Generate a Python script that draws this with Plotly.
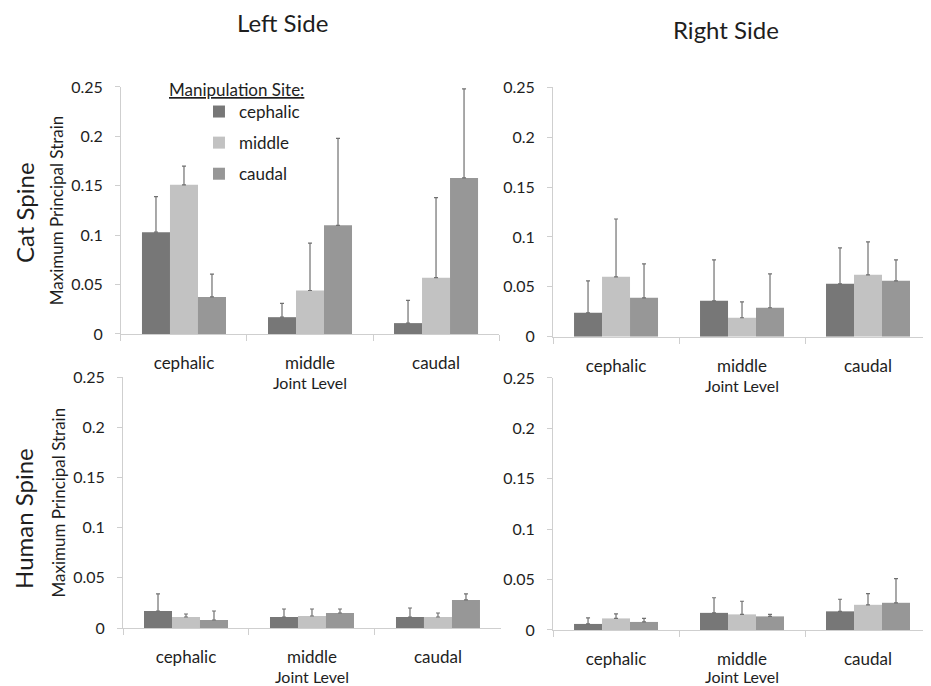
import plotly.graph_objects as go

# ---------------- data ----------------
joint_levels = ["cephalic", "middle", "caudal"]          # x categories
sites = ["cephalic", "middle", "caudal"]                 # manipulation sites (series)
site_colors = ["#777777", "#c2c2c2", "#979797"]

# Cat spine, left side (rows = manipulation site, cols = joint level)
cat_left_mean = [[0.103, 0.017, 0.011],
                 [0.151, 0.044, 0.057],
                 [0.0375, 0.110, 0.158]]
cat_left_err = [[0.036, 0.014, 0.023],
                [0.019, 0.048, 0.081],
                [0.023, 0.088, 0.090]]

# Cat spine, right side
cat_right_mean = [[0.024, 0.036, 0.053],
                  [0.060, 0.019, 0.062],
                  [0.039, 0.029, 0.056]]
cat_right_err = [[0.032, 0.041, 0.036],
                 [0.058, 0.016, 0.033],
                 [0.034, 0.034, 0.021]]

# Human spine, left side
human_left_mean = [[0.017, 0.011, 0.011],
                   [0.011, 0.012, 0.011],
                   [0.008, 0.015, 0.028]]
human_left_err = [[0.017, 0.008, 0.009],
                  [0.003, 0.007, 0.004],
                  [0.009, 0.004, 0.006]]

# Human spine, right side
human_right_mean = [[0.006, 0.017, 0.0185],
                    [0.0115, 0.0155, 0.025],
                    [0.008, 0.0135, 0.027]]
human_right_err = [[0.006, 0.015, 0.012],
                   [0.0045, 0.013, 0.011],
                   [0.0035, 0.002, 0.024]]

y_ticks = [0, 0.05, 0.1, 0.15, 0.2, 0.25]
y_ticktext = ["0", "0.05", "0.1", "0.15", "0.2", "0.25"]

# ---------------- figure ----------------
FONT = "Lato, 'Open Sans', sans-serif"
AXIS_COLOR = "#cfcfcf"
TEXT_COLOR = "#1e1e1e"

# the page body adds an 8 px offset, so the figure is 8 px smaller each way
W, H = 923, 678

panels = [
    ("x", "y", cat_left_mean, cat_left_err, True),
    ("x2", "y2", cat_right_mean, cat_right_err, False),
    ("x3", "y3", human_left_mean, human_left_err, False),
    ("x4", "y4", human_right_mean, human_right_err, False),
]

fig = go.Figure()
for xa, ya, means, errs, show in panels:
    for i, site in enumerate(sites):
        fig.add_trace(go.Bar(
            x=joint_levels, y=means[i], name=site,
            marker=dict(color=site_colors[i], line=dict(width=0)),
            error_y=dict(type="data", symmetric=False, array=errs[i],
                         arrayminus=[0] * len(errs[i]),
                         color="#707070", thickness=1.2, width=2),
            xaxis=xa, yaxis=ya, showlegend=show,
            legendgroup=site,
        ))

def xaxis_style(domain, anchor):
    return dict(domain=domain, anchor=anchor, type="category",
                automargin=False,
                showline=True, linecolor=AXIS_COLOR, linewidth=1,
                ticks="outside", tickson="boundaries", ticklen=6,
                tickcolor=AXIS_COLOR, ticklabelstandoff=14,
                tickfont=dict(family=FONT, size=17, color=TEXT_COLOR),
                title=dict(text="Joint Level", standoff=0,
                           font=dict(family=FONT, size=16, color=TEXT_COLOR)),
                showgrid=False, zeroline=False, fixedrange=True)

def yaxis_style(domain, anchor, title=None):
    d = dict(domain=domain, anchor=anchor, range=[0, 0.25],
             automargin=False,
             tickvals=y_ticks, ticktext=y_ticktext,
             showline=True, linecolor=AXIS_COLOR, linewidth=1,
             ticks="outside", ticklen=5, tickcolor=AXIS_COLOR,
             ticklabelstandoff=9,
             tickfont=dict(family=FONT, size=16, color=TEXT_COLOR),
             showgrid=False, zeroline=False, fixedrange=True)
    if title:
        d["title"] = dict(text=title, standoff=3,
                          font=dict(family=FONT, size=17, color=TEXT_COLOR))
    return d

fig.update_layout(
    width=W, height=H,
    margin=dict(l=0, r=0, t=0, b=0, autoexpand=False),
    paper_bgcolor="white", plot_bgcolor="white",
    barmode="group", bargap=1/3, bargroupgap=0,
    font=dict(family=FONT, color=TEXT_COLOR),
    xaxis=xaxis_style([0.1224, 0.5320], "y"),
    yaxis=yaxis_style([0.5192, 0.8835], "x", "Maximum Principal Strain"),
    xaxis2=xaxis_style([0.5905, 1.0], "y2"),
    yaxis2=yaxis_style([0.5152, 0.8830], "x2"),
    xaxis3=xaxis_style([0.1246, 0.5341], "y3"),
    yaxis3=yaxis_style([0.0855, 0.4553], "x3", "Maximum Principal Strain"),
    xaxis4=xaxis_style([0.5905, 1.0], "y4"),
    yaxis4=yaxis_style([0.0826, 0.4543], "x4"),
    legend=dict(x=0.2069, y=0.8732, xanchor="left", yanchor="top",
                bgcolor="rgba(0,0,0,0)", tracegroupgap=6,
                font=dict(family=FONT, size=17, color=TEXT_COLOR)),
)

def label(text, x, y, size, angle=0):
    return dict(text=text, x=x, y=y, xref="paper", yref="paper",
                xanchor="center", yanchor="middle", textangle=angle,
                showarrow=False, font=dict(family=FONT, size=size, color=TEXT_COLOR))

fig.update_layout(annotations=[
    label("<u>Manipulation Site:</u>", 0.2481, 0.8805, 17),
    label("Left Side", 0.2974, 0.9780, 24),
    label("Right Side", 0.7779, 0.9676, 24),
    label("Cat Spine", 0.0173, 0.6991, 24, -90),
    label("Human Spine", 0.0173, 0.2478, 24, -90),
])

fig.write_html("out.html")
